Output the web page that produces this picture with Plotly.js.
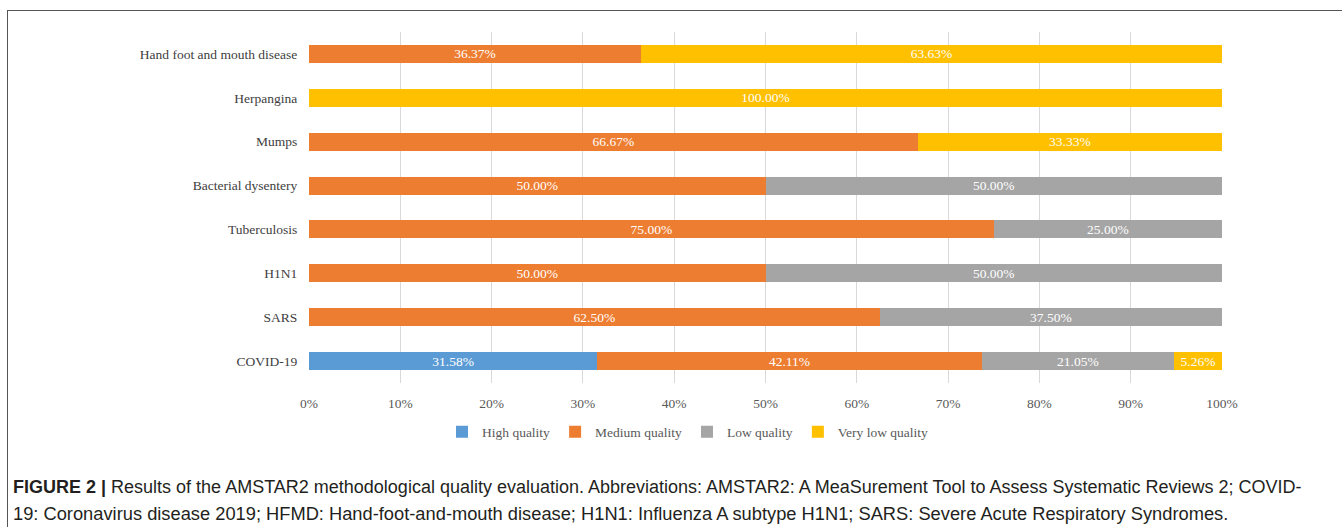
<!DOCTYPE html>
<html>
<head>
<meta charset="utf-8">
<script src="https://cdn.plot.ly/plotly-3.0.1.min.js"></script>
<style>
  html, body { margin: 0; padding: 0; background: #fff; }
  #chart { width: 1342px; height: 527px; }
</style>
</head>
<body>
<div id="chart"></div>
<script>
// Categories listed bottom to top
const categories = ["COVID-19", "SARS", "H1N1", "Tuberculosis", "Bacterial dysentery", "Mumps", "Herpangina", "Hand foot and mouth disease"];
const highQuality    = [31.58, null, null, null, null, null, null, null];
const mediumQuality  = [42.11, 62.50, 50.00, 75.00, 50.00, 66.67, null, 36.37];
const lowQuality     = [21.05, 37.50, 50.00, 25.00, 50.00, null, null, null];
const veryLowQuality = [5.26, null, null, null, null, 33.33, 100.00, 63.63];
const seriesNames = ["High quality", "Medium quality", "Low quality", "Very low quality"];
const seriesColors = ["#5B9BD5", "#ED7D31", "#A5A5A5", "#FFC000"];
const tickValues = [0, 10, 20, 30, 40, 50, 60, 70, 80, 90, 100];
const captionBold = "FIGURE 2 |";
const captionLine1 = " Results of the AMSTAR2 methodological quality evaluation. Abbreviations: AMSTAR2: A MeaSurement Tool to Assess Systematic Reviews 2; COVID-";
const captionLine2 = "19: Coronavirus disease 2019; HFMD: Hand-foot-and-mouth disease; H1N1: Influenza A subtype H1N1; SARS: Severe Acute Respiratory Syndromes.";

const serif = "'Liberation Serif', 'Times New Roman', serif";
const sans = "'Liberation Sans', Arial, sans-serif";

const seriesValues = [highQuality, mediumQuality, lowQuality, veryLowQuality];
const traces = seriesValues.map((vals, i) => ({
  type: "bar",
  orientation: "h",
  name: seriesNames[i],
  y: categories,
  x: vals,
  text: vals.map(v => v == null ? "" : v.toFixed(2) + "%"),
  textposition: "inside",
  insidetextanchor: "middle",
  textangle: 0,
  textfont: { family: serif, size: 13.5, color: "#FFFFFF" },
  constraintext: "none",
  marker: { color: seriesColors[i], line: { width: 0 } },
  hoverinfo: "skip"
}));

// plot area pixel geometry
const L = 309, R = 1222, T = 32, B = 383, W = 1342, H = 527;
const px = x => (x - L) / (R - L);
const py = y => (B - y) / (B - T);

const layout = {
  width: W, height: H,
  margin: { l: L, r: W - R, t: T, b: H - B, pad: 0 },
  paper_bgcolor: "#FFFFFF",
  plot_bgcolor: "#FFFFFF",
  barmode: "stack",
  bargap: 0.59,
  showlegend: true,
  legend: {
    orientation: "h",
    x: px(688), xanchor: "center",
    xref: "paper", yref: "paper",
    y: py(432), yanchor: "middle",
    font: { family: serif, size: 13.5, color: "#595959" },
    traceorder: "normal",
    itemwidth: 30,
    itemclick: false
  },
  xaxis: {
    range: [0, 100],
    tickvals: tickValues,
    ticktext: tickValues.map(v => v + "%"),
    showgrid: true,
    gridcolor: "#D9D9D9",
    gridwidth: 1,
    zeroline: false,
    showline: false,
    ticks: "outside",
    ticklen: 8,
    tickcolor: "rgba(0,0,0,0)",
    tickfont: { family: serif, size: 13.5, color: "#595959" },
    fixedrange: true
  },
  yaxis: {
    categoryorder: "array",
    categoryarray: categories,
    showgrid: false,
    zeroline: false,
    showline: false,
    ticks: "outside",
    ticklen: 8,
    tickcolor: "rgba(0,0,0,0)",
    tickfont: { family: serif, size: 13.5, color: "#404040" },
    fixedrange: true
  },
  shapes: [
    { type: "line", xref: "paper", yref: "paper", x0: px(7), x1: px(1342), y0: py(10.5), y1: py(10.5), line: { color: "#555555", width: 1 } },
    { type: "line", xref: "paper", yref: "paper", x0: px(7.5), x1: px(7.5), y0: py(10.5), y1: py(527), line: { color: "#555555", width: 1 } }
  ],
  annotations: [
    {
      xref: "paper", yref: "paper", x: px(11), y: py(487), xanchor: "left", yanchor: "middle",
      showarrow: false, align: "left",
      text: "<b>" + captionBold + "</b>" + captionLine1,
      font: { family: sans, size: 18, color: "#231F20" }
    },
    {
      xref: "paper", yref: "paper", x: px(11), y: py(513), xanchor: "left", yanchor: "middle",
      showarrow: false, align: "left",
      text: captionLine2,
      font: { family: sans, size: 18.3, color: "#231F20" }
    }
  ]
};

Plotly.newPlot("chart", traces, layout, { displayModeBar: false, staticPlot: true });
</script>
</body>
</html>
